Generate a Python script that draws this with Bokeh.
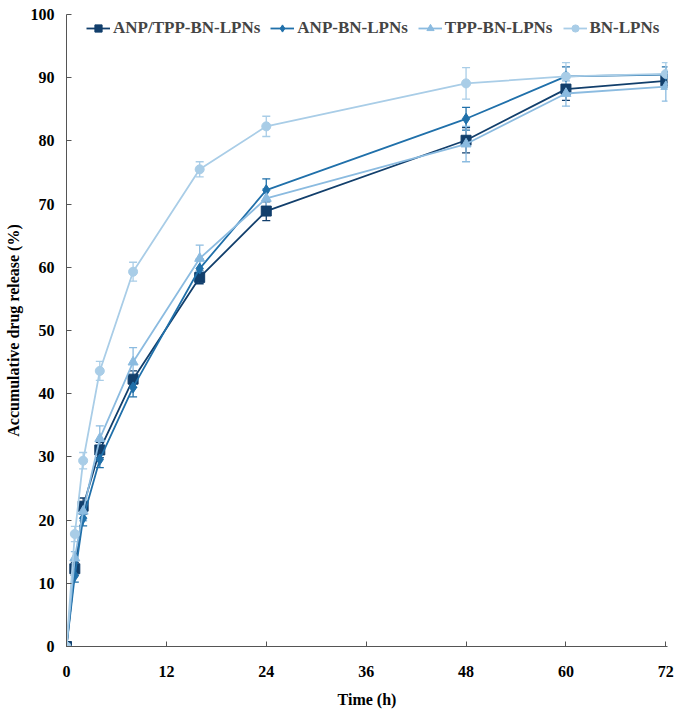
from bokeh.plotting import figure
from bokeh.models import ColumnDataSource, Whisker, TeeHead, Legend, LegendItem, FixedTicker, Range1d
from bokeh.embed import file_html
from bokeh.resources import INLINE

time_h = [0, 1, 2, 4, 8, 16, 24, 48, 60, 72]

anp_tpp = [0, 12.3, 22.2, 31.1, 42.3, 58.4, 68.9, 80.1, 88.2, 89.5]
anp_tpp_err = [0, 1.0, 1.3, 1.2, 1.3, 1.0, 1.5, 2.0, 1.8, 1.0]

anp = [0, 11.2, 20.3, 29.6, 41.0, 59.8, 72.2, 83.5, 90.2, 90.5]
anp_err = [0, 1.0, 1.2, 1.3, 1.5, 1.5, 1.8, 1.8, 1.5, 1.2]

tpp = [0, 14.0, 21.4, 32.9, 45.0, 61.4, 70.9, 79.5, 87.5, 88.6]
tpp_err = [0, 1.0, 1.5, 2.0, 2.3, 2.1, 1.5, 2.8, 2.0, 2.3]

bn = [0, 17.8, 29.4, 43.6, 59.3, 75.5, 82.3, 89.1, 90.2, 90.6]
bn_err = [0, 1.2, 1.3, 1.5, 1.5, 1.2, 1.6, 2.5, 2.2, 1.8]

names = ["ANP/TPP-BN-LPNs", "ANP-BN-LPNs", "TPP-BN-LPNs", "BN-LPNs"]
colors = ["#123f6c", "#2070aa", "#8bbbe0", "#a9cde7"]
markers = ["square", "diamond", "triangle", "circle"]
msizes = [10, 11, 10, 9]

FONT = "Liberation Serif"

p = figure(width=675, height=712, output_backend="svg", toolbar_location=None,
           x_range=Range1d(0, 72.2), y_range=Range1d(0, 100),
           min_border_left=66, min_border_right=8, min_border_top=14, min_border_bottom=66)
p.outline_line_color = None
p.grid.visible = False
p.background_fill_color = "white"

for ax in (p.xaxis[0], p.yaxis[0]):
    ax.axis_line_color = "#555555"
    ax.major_tick_line_color = "#555555"
    ax.major_tick_in = 5
    ax.major_tick_out = 0
    ax.minor_tick_line_color = None
    ax.major_label_text_font = FONT
    ax.major_label_text_font_style = "bold"
    ax.major_label_text_font_size = "16px"
    ax.major_label_text_color = "black"
    ax.axis_label_text_font = FONT
    ax.axis_label_text_font_style = "bold"
    ax.axis_label_text_font_size = "16px"
    ax.axis_label_text_color = "black"

p.xaxis.ticker = FixedTicker(ticks=[0, 12, 24, 36, 48, 60, 72])
p.yaxis.ticker = FixedTicker(ticks=list(range(0, 101, 10)))
p.xaxis.axis_label = "Time (h)"
p.yaxis.axis_label = "Accumulative drug release (%)"
p.xaxis.major_label_standoff = 19
p.yaxis.major_label_standoff = 12
p.xaxis.axis_label_standoff = 11
p.yaxis.axis_label_standoff = 6

items = []
series = [(anp_tpp, anp_tpp_err), (anp, anp_err), (tpp, tpp_err), (bn, bn_err)]
for (vals, errs), name, col, mk, ms in zip(series, names, colors, markers, msizes):
    src = ColumnDataSource(dict(x=time_h, y=vals,
                                lo=[v - e for v, e in zip(vals, errs)],
                                hi=[v + e for v, e in zip(vals, errs)]))
    w = Whisker(source=src, base="x", upper="hi", lower="lo", line_color=col, line_width=1.3,
                upper_head=TeeHead(size=8, line_color=col, line_width=1.3),
                lower_head=TeeHead(size=8, line_color=col, line_width=1.3))
    p.add_layout(w)
    r1 = p.line("x", "y", source=src, line_color=col, line_width=1.8)
    r2 = p.scatter("x", "y", source=src, marker=mk, size=ms, fill_color=col, line_color=col)
    items.append(LegendItem(label=name, renderers=[r1, r2]))

legend = Legend(items=items, orientation="horizontal",
                margin=4, padding=2, spacing=10, glyph_width=24, glyph_height=18,
                label_height=18, label_standoff=3,
                label_text_font=FONT, label_text_font_style="bold", label_text_font_size="17px",
                border_line_color=None, background_fill_alpha=0)
p.add_layout(legend, "center")
legend.location = (20, 632 - 24)

open("out.html", "w").write(file_html(p, INLINE))
